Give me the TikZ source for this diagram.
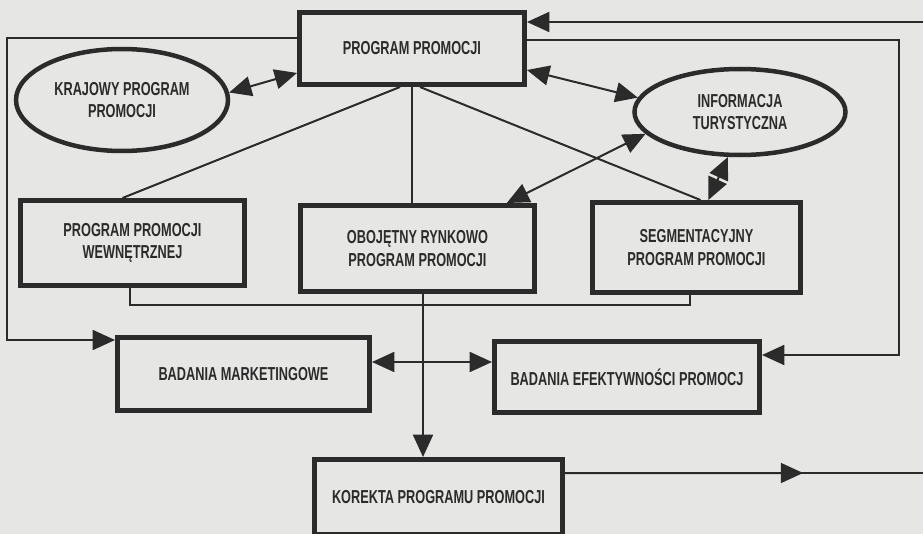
\documentclass[tikz,border=0pt]{standalone}
\usepackage{fontspec}
\setmainfont{Liberation Sans}[FakeStretch=0.68]
\usetikzlibrary{arrows.meta,calc,shapes.geometric}
\newdimen\pxu \pxu=0.03cm
\definecolor{ink}{HTML}{2B2B2B}
\definecolor{paper}{HTML}{E6E6E4}

\begin{document}
\begin{tikzpicture}[x=0.03cm,y=-0.03cm,
	>={Triangle[length=19pt,width=17pt]},
	box/.style={shape=rectangle,draw=ink,line width=5\pxu,fill=paper,align=center,inner sep=0pt,
		font=\bfseries\fontsize{16}{19}\selectfont,text=ink},
	oval/.style={shape=ellipse,draw=ink,line width=4.5\pxu,fill=paper,align=center,inner sep=0pt,
		font=\bfseries\fontsize{16}{19}\selectfont,text=ink},
	conn/.style={draw=ink,line width=2\pxu}]
	\useasboundingbox (0,0) rectangle (923,534);
	\clip (0,0) rectangle (923,534);
	\fill[paper] (0,0) rectangle (923,534);

	\node[box,minimum width=225\pxu,minimum height=72\pxu] (prog) at (412,48.5) {PROGRAM PROMOCJI};
	\node[oval,minimum width=212\pxu,minimum height=102\pxu] (kraj) at (122,100) {KRAJOWY PROGRAM\\PROMOCJI};
	\node[oval,minimum width=211\pxu,minimum height=86\pxu] (info) at (740,112) {INFORMACJA\\TURYSTYCZNA};
	\node[box,minimum width=224\pxu,minimum height=85\pxu] (wewn) at (132.5,243) {PROGRAM PROMOCJI\\WEWNĘTRZNEJ};
	\node[box,minimum width=234\pxu,minimum height=86\pxu] (oboj) at (417.5,248.5) {OBOJĘTNY RYNKOWO\\PROGRAM PROMOCJI};
	\node[box,minimum width=208\pxu,minimum height=90\pxu] (segm) at (696.5,247.5) {SEGMENTACYJNY\\PROGRAM PROMOCJI};
	\node[box,minimum width=252\pxu,minimum height=73\pxu] (bmark) at (243.5,374) {BADANIA MARKETINGOWE};
	\node[box,minimum width=265\pxu,minimum height=71\pxu] (befek) at (627,377) {BADANIA EFEKTYWNOŚCI PROMOCJ};
	\node[box,minimum width=248\pxu,minimum height=75\pxu] (korekta) at (438.5,497) {KOREKTA PROGRAMU PROMOCJI};

	\coordinate (ltop) at (7,38);
	\coordinate (lbot) at (7,340);
	\coordinate (rin) at (923,22);
	\coordinate (rtop) at (899,40);
	\coordinate (rbot) at (899,355);
	\coordinate (busl) at (130,305);
	\coordinate (busr) at (690,305);
	\coordinate (vtop) at ([xshift=5.5\pxu]oboj.south);
	\coordinate (bm) at ([yshift=12\pxu]bmark.east);
	\coordinate (pe) at ([yshift=-21.5\pxu]prog.east);
	\coordinate (kout) at (923,473);

	\draw[conn,->] (prog.west |- ltop) -- (ltop) -- (lbot) -- (lbot -| bmark.west);
	\draw[conn,->] (rin) -- (rin -| prog.east);
	\draw[conn,->] (prog.east |- rtop) -- (rtop) -- (rbot) -- (rbot -| befek.east);

	\draw[conn,<->] (kraj.4) -- (prog.192);
	\draw[conn,<->] (pe) -- (info.172);
	\draw[conn,<->] (info.193) -- (oboj.27);
	\draw[conn,<->] (info.255) -- (segm.76);

	\draw[conn] ([xshift=-12\pxu]prog.south) -- ([xshift=-10\pxu]wewn.north);
	\draw[conn] (prog.south) -- (prog.south |- oboj.north);
	\draw[conn] ([xshift=8\pxu]prog.south) -- ([xshift=4\pxu]segm.north);

	\draw[conn] (wewn.south -| busl) -- (busl) -- (busr) -- (busr |- segm.south);
	\draw[conn,->] (vtop) -- (vtop |- korekta.north);
	\draw[conn,<->] (bm) -- (bm -| befek.west);

	\draw[conn] (korekta.east |- kout) -- (kout);
	\draw[conn,->] (korekta.east |- kout) -- ($(korekta.east |- kout)!0.665!(kout)$);
\end{tikzpicture}
\end{document}
